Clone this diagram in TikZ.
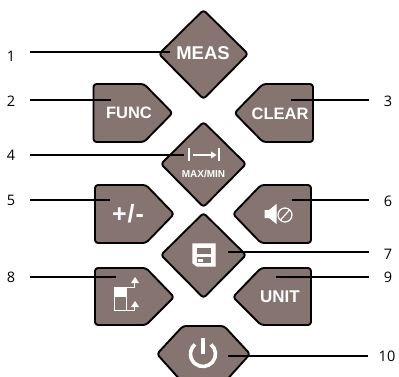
\documentclass[tikz,border=0pt]{standalone}
\usepackage{fontspec}
\setmainfont{Open Sans}
\newfontfamily\keyfont{Liberation Sans}
\definecolor{keyfill}{HTML}{857470}
\tikzset{
  x=1pt,y=-1pt,
  keyshape/.style={draw=black,fill=keyfill,line width=1.9pt,rounded corners=3pt,line join=round},
  keytext/.style={text=white,inner sep=0pt},
  keyicon/.style={draw=white,line width=1.4pt},
  keysolid/.style={fill=white,draw=none},
  numlabel/.style={font=\fontsize{14.5}{14.5}\selectfont,text=black,minimum width=38pt,inner sep=0pt,anchor=center},
  leader/.style={draw=black,line width=1.2pt},
}
\begin{document}
\begin{tikzpicture}
\useasboundingbox (0,0) rectangle (399,377);
\begin{scope}
\clip (0,0) rectangle (399,377);
% keys
\draw[keyshape] (203.5,10) -- (248,54) -- (203.5,99) -- (159,54) -- cycle;
\draw[keyshape] (93.5,84) -- (144,84) -- (172.5,113) -- (144,142) -- (93.5,142) -- cycle;
\draw[keyshape] (313,84) -- (263,84) -- (234.5,113) -- (263,142) -- (313,142) -- cycle;
\draw[keyshape] (203.5,122) -- (246,164) -- (203.5,207) -- (161,164) -- cycle;
\draw[keyshape] (95,185) -- (146,185) -- (174,214) -- (146,243) -- (95,243) -- cycle;
\draw[keyshape] (311,185) -- (261,185) -- (233,214) -- (261,243) -- (311,243) -- cycle;
\draw[keyshape] (203.5,213) -- (246,255) -- (203.5,298) -- (161,255) -- cycle;
\draw[keyshape] (95,268) -- (146,268) -- (174,297) -- (146,325) -- (95,325) -- cycle;
\draw[keyshape] (311,268) -- (261,268) -- (233,297) -- (261,325) -- (311,325) -- cycle;
\draw[keyshape] (183,326) -- (224,326) -- (250,354) -- (224,383) -- (183,383) -- (157,354) -- cycle;
\end{scope}
% key texts
\node[keytext,font=\keyfont\bfseries\fontsize{18.5}{18.5}\selectfont] (tmeas) at (203,53) {MEAS};
\node[keytext,font=\keyfont\bfseries\fontsize{16.5}{16.5}\selectfont] (tfunc) at (129,113) {FUNC};
\node[keytext,font=\keyfont\bfseries\fontsize{16.5}{16.5}\selectfont] (tclear) at (280,114) {CLEAR};
\node[keytext,font=\keyfont\bfseries\fontsize{10}{10}\selectfont] (tmax) at (203.5,173.5) {MAX/MIN};
\node[keytext,font=\keyfont\bfseries\fontsize{25}{25}\selectfont] (tpm) at (128,214) {+\kern1pt/\kern1pt-};
\node[keytext,font=\keyfont\bfseries\fontsize{17}{17}\selectfont] (tunit) at (280,297) {UNIT};
% MAX/MIN icon
\draw[keyicon] (189,148) -- (189,161);
\draw[keyicon] (219,148) -- (219,161);
\draw[white,line width=1.1pt] (193,155) -- (212,155);
\fill[white] (216.5,155) -- (211,151.5) -- (211,158.5) -- cycle;
% mute icon
\fill[keysolid] (264.5,210) -- (269,210) -- (276.5,204) -- (276.5,224) -- (269,218) -- (264.5,218) -- cycle;
\draw[white,line width=1.2pt] (285,215) circle (7);
\draw[white,line width=1.2pt] (280.5,220) -- (289.5,210);
% save icon
\draw[white,line width=1.3pt,fill=white] (193,244) -- (215,244) -- (215,266) -- (197,266) -- (193,263) -- cycle;
\fill[keyfill] (197,248) rectangle (211,254);
\fill[keyfill] (197,257) rectangle (211,263);
\fill[white] (198,259) rectangle (203,261.5);
% range icon
\draw[white,line width=1pt] (114.5,287) rectangle (126,310);
\fill[white] (114.5,288) rectangle (126,297);
\draw[white,line width=1pt] (126,287) -- (134,287) -- (134,282);
\draw[white,line width=1pt] (126,310) -- (134,310) -- (134,305);
\fill[white] (135,277) -- (131,283) -- (139,283) -- cycle;
\fill[white] (135,301) -- (131,307) -- (139,307) -- cycle;
% power icon
\draw[white,line width=3.6pt] (203,338) -- (203,354);
\draw[white,line width=3.6pt] (211,344.4) arc[start angle=-50,end angle=230,radius=12.5];
% numbers
\node[numlabel] (n1) at (11,56) {1};
\node[numlabel] (n2) at (11,101) {2};
\node[numlabel] (n3) at (388,101) {3};
\node[numlabel] (n4) at (11,155) {4};
\node[numlabel] (n5) at (11,200) {5};
\node[numlabel] (n6) at (388,201) {6};
\node[numlabel] (n7) at (388,254) {7};
\node[numlabel] (n8) at (11,277) {8};
\node[numlabel] (n9) at (388,277) {9};
\node[numlabel] (n10) at (387,356) {10};
% connector ends
\coordinate (e1) at (170,52);
\coordinate (e2) at (111,100);
\coordinate (e3) at (291,100);
\coordinate (e4) at (184,155);
\coordinate (e5) at (110,200);
\coordinate (e6) at (292,200);
\coordinate (e7) at (228,252);
\coordinate (e8) at (116,277);
\coordinate (e9) at (276,277);
\coordinate (e10) at (228,356);
\foreach \i in {1,2,4,5,8} {\draw[leader] (n\i.east |- e\i) -- (e\i);}
\foreach \i in {3,6,7,9,10} {\draw[leader] (n\i.west |- e\i) -- (e\i);}
\end{tikzpicture}
\end{document}
